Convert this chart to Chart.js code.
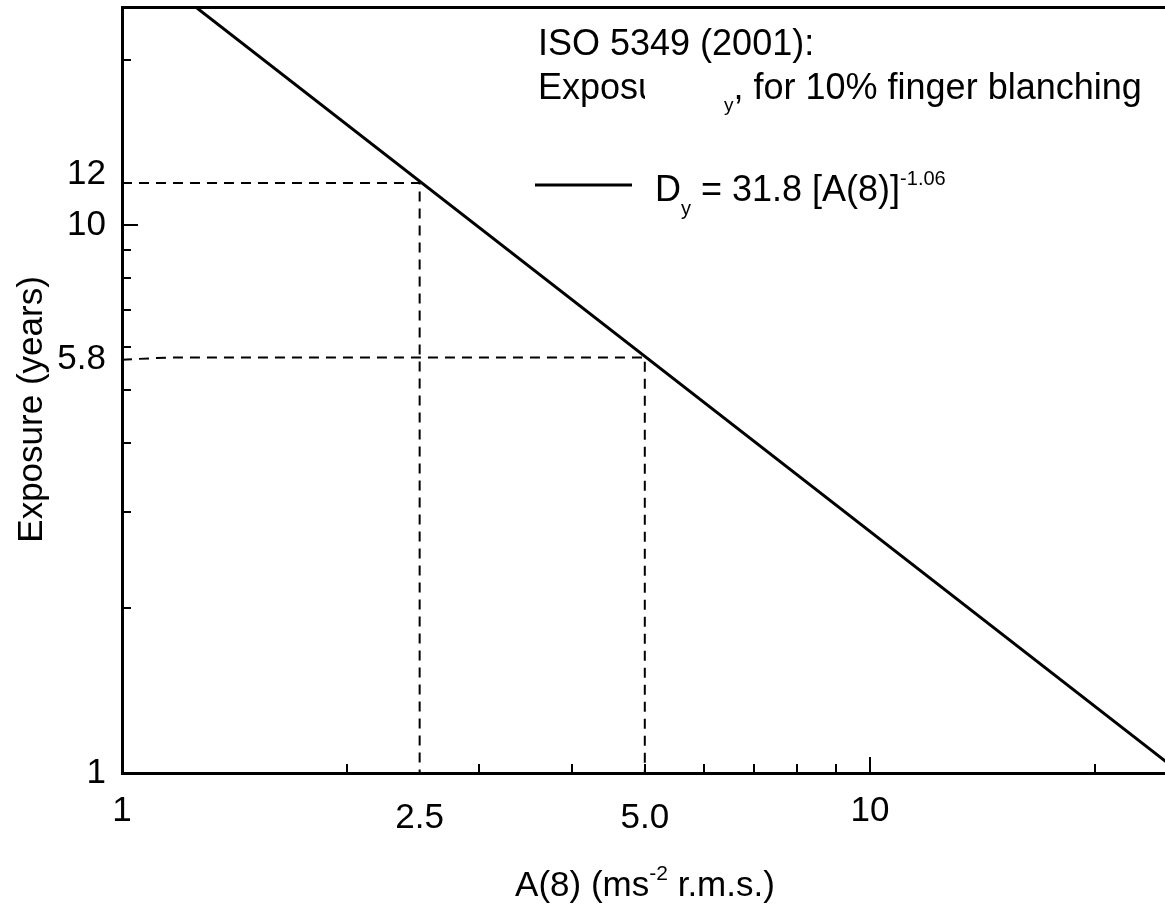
<!DOCTYPE html>
<html>
<head>
<meta charset="utf-8">
<script src="https://cdn.jsdelivr.net/npm/chart.js"></script>
<style>
  html, body { margin: 0; padding: 0; background: #fff; overflow: hidden; }
</style>
</head>
<body>
<canvas id="isoChart" width="1165" height="911"></canvas>
<script>
const FONT = '"Liberation Sans", Arial, sans-serif';

// D_y = 31.8 [A(8)]^-1.06, the two ends of the line
const curveA = [1, 30];
const curveD = [31.8, 0.86];

// dashed reading guides
const guide12A = [1, 2.5, 2.5];
const guide12D = [11.93, 11.93, 1];
const guide58A = [1, 1.15, 5, 5];
const guide58D = [5.68, 5.73, 5.73, 1];

// axes
const xLabelTicks = [1, 2.5, 5, 10];
const xLabels = ['1', '2.5', '5.0', '10'];
const yLabelTicks = [1, 5.8, 10, 12];
const yLabels = ['1', '5.8', '10', '12'];
const xMinorTicks = [2, 3, 4, 5, 6, 7, 8, 9, 20];
const xMajorTicks = [10];
const yMinorTicks = [2, 3, 4, 5, 6, 7, 8, 9, 20];
const yMajorTicks = [10];

const toPts = (xs, ys) => xs.map((v, i) => ({ x: v, y: ys[i] }));

function drawRuns(ctx, x, y, runs) {
  runs.forEach(r => {
    ctx.font = r.size + 'px ' + FONT;
    ctx.fillText(r.text, x, y + (r.dy || 0));
    x += ctx.measureText(r.text).width;
  });
  return x;
}

function runsWidth(ctx, runs) {
  let w = 0;
  runs.forEach(r => {
    ctx.font = r.size + 'px ' + FONT;
    w += ctx.measureText(r.text).width;
  });
  return w;
}

// inward tick marks, drawn on the library scales
const inwardTicks = {
  id: 'inwardTicks',
  afterDraw(chart) {
    const { ctx, chartArea: a, scales: { x, y } } = chart;
    ctx.save();
    ctx.strokeStyle = '#000';
    ctx.lineWidth = 2;
    const tick = (x1, y1, x2, y2) => {
      ctx.beginPath(); ctx.moveTo(x1, y1); ctx.lineTo(x2, y2); ctx.stroke();
    };
    xMinorTicks.forEach(v => { const p = Math.round(x.getPixelForValue(v)); tick(p, a.bottom, p, a.bottom - 9); });
    xMajorTicks.forEach(v => { const p = Math.round(x.getPixelForValue(v)); tick(p, a.bottom, p, a.bottom - 16); });
    yMinorTicks.forEach(v => { const p = Math.round(y.getPixelForValue(v)); tick(a.left, p, a.left + 9, p); });
    yMajorTicks.forEach(v => { const p = Math.round(y.getPixelForValue(v)); tick(a.left, p, a.left + 16, p); });
    ctx.restore();
  }
};

// annotation text, legend and x title (they need sub/superscripts)
const annotations = {
  id: 'annotations',
  afterDraw(chart) {
    const ctx = chart.ctx;
    ctx.save();
    ctx.fillStyle = '#000';
    ctx.textBaseline = 'alphabetic';
    ctx.textAlign = 'left';

    drawRuns(ctx, 538, 55, [{ text: 'ISO 5349 (2001):', size: 36 }]);

    // first words of the second line are blanked out in the source figure
    ctx.save();
    ctx.beginPath();
    ctx.rect(0, 0, 645, 911);
    ctx.clip();
    drawRuns(ctx, 538, 99, [{ text: 'Exposure, D', size: 36 }]);
    ctx.restore();
    drawRuns(ctx, 724, 99, [
      { text: 'y', size: 19, dy: 12 },
      { text: ', for 10% finger blanching', size: 36 }
    ]);

    // legend
    ctx.strokeStyle = '#000';
    ctx.lineWidth = 3;
    ctx.beginPath(); ctx.moveTo(535, 185); ctx.lineTo(632, 185); ctx.stroke();
    drawRuns(ctx, 655, 201, [
      { text: 'D', size: 36 },
      { text: 'y', size: 20, dy: 14 },
      { text: ' = 31.8 [A(8)]', size: 36 },
      { text: '-1.06', size: 20, dy: -16 }
    ]);

    // x axis title
    const title = [
      { text: 'A(8) (ms', size: 35 },
      { text: '-2', size: 21, dy: -16 },
      { text: ' r.m.s.)', size: 35 }
    ];
    drawRuns(ctx, 645 - runsWidth(ctx, title) / 2, 896, title);
    ctx.restore();
  }
};

const lineSet = (pts, width, dash) => ({
  data: pts,
  showLine: true,
  borderColor: '#000',
  backgroundColor: '#000',
  borderWidth: width,
  borderDash: dash,
  pointRadius: 0,
  fill: false
});

new Chart(document.getElementById('isoChart').getContext('2d'), {
  type: 'scatter',
  data: {
    datasets: [
      lineSet(toPts(curveA, curveD), 3, []),
      lineSet(toPts(guide12A, guide12D), 2, [10, 7]),
      lineSet(toPts(guide58A, guide58D), 2, [10, 7])
    ]
  },
  options: {
    responsive: false,
    animation: false,
    devicePixelRatio: 1,
    layout: { padding: 0 },
    plugins: { legend: { display: false }, tooltip: { enabled: false } },
    scales: {
      x: {
        type: 'logarithmic',
        position: 'bottom',
        min: 1,
        max: 24.8,
        afterFit: s => { s.height = 138; s.paddingLeft = 0; s.paddingRight = 0; },
        afterBuildTicks: s => { s.ticks = xLabelTicks.map(v => ({ value: v })); },
        grid: { display: false, drawTicks: false },
        border: { display: true, color: '#000', width: 3 },
        ticks: {
          padding: 17,
          color: '#000',
          autoSkip: false,
          maxRotation: 0,
          callback: (v, i) => xLabels[i],
          font: c => ({
            family: FONT,
            size: 35,
            lineHeight: (c.tick && (c.tick.value === 2.5 || c.tick.value === 5)) ? 1.6 : 1.2
          })
        }
      },
      frameTop: {
        axis: 'x',
        type: 'linear',
        position: 'top',
        afterFit: s => { s.height = 7; s.paddingLeft = 0; s.paddingRight = 0; },
        grid: { display: false, drawTicks: false },
        ticks: { display: false },
        border: { display: true, color: '#000', width: 3 }
      },
      y: {
        type: 'logarithmic',
        position: 'left',
        min: 1,
        max: 25,
        afterFit: s => { s.width = 122; s.paddingTop = 0; s.paddingBottom = 0; },
        afterBuildTicks: s => { s.ticks = yLabelTicks.map(v => ({ value: v })); },
        grid: { display: false, drawTicks: false },
        border: { display: true, color: '#000', width: 3 },
        ticks: {
          padding: 16,
          color: '#000',
          autoSkip: false,
          // 12 sits a little above its value, 5.8 a little below
          callback: (v, i) => yLabels[i] === '12' ? ['12', ''] : yLabels[i] === '5.8' ? ['', '5.8'] : yLabels[i],
          font: c => {
            const v = c.tick ? c.tick.value : null;
            return { family: FONT, size: 35, lineHeight: v === 12 ? '14px' : v === 5.8 ? '10px' : 1.2 };
          }
        },
        title: {
          display: true,
          // trailing spaces push the rotated title a little below the axis middle
          text: 'Exposure (years)    ',
          color: '#000',
          font: { family: FONT, size: 35 },
          padding: { top: 11, bottom: 0 }
        }
      }
    }
  },
  plugins: [inwardTicks, annotations]
});
</script>
</body>
</html>
